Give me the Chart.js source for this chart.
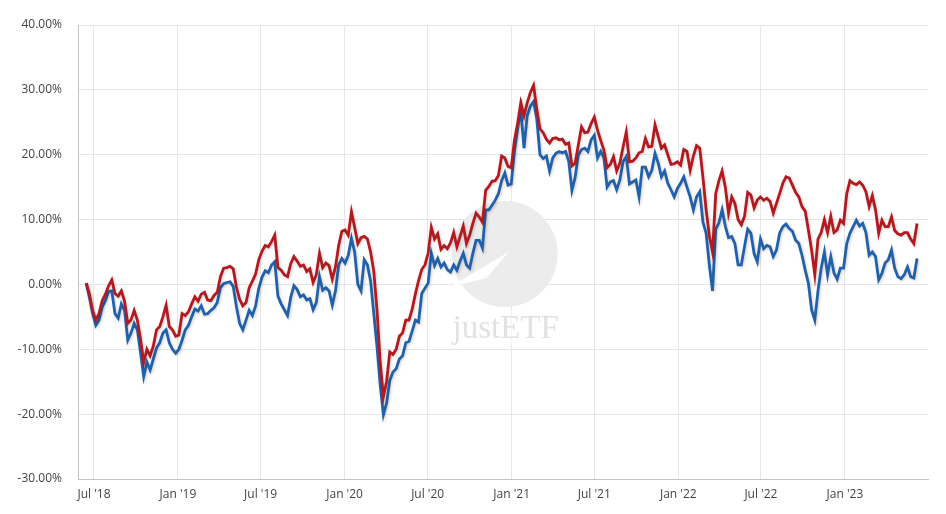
<!DOCTYPE html>
<html>
<head>
<meta charset="utf-8">
<script src="https://cdn.jsdelivr.net/npm/chart.js@4.4.0/dist/chart.umd.min.js"></script>
<style>
  html, body { margin: 0; padding: 0; background: #fff; }
  #wrap { width: 946px; height: 514px; position: relative; }
</style>
</head>
<body>
<div id="wrap"><canvas id="perfChart"></canvas></div>
<script>
// weekly closes, first sample on 2018-06-14
const startDate = "2018-06-14";
const stepDays = 7;

// red line (performance in %)
const redSeries = [
  0.2, -1.5, -4.0, -5.5, -4.5, -2.5, -1.5, -0.2, 0.7, -1.4,
  -1.8, -1.0, -2.6, -6.0, -5.5, -4.0, -5.5, -8.5, -12.0, -10.0,
  -11.0, -9.5, -7.0, -6.5, -5.0, -3.2, -6.5, -7.0, -8.0, -7.8,
  -4.5, -4.8, -4.2, -3.0, -1.9, -2.6, -1.5, -1.2, -2.4, -2.5,
  -1.7, -1.2, 1.2, 2.5, 2.6, 2.8, 2.4, -0.4, -2.3, -3.3,
  -2.8, -0.5, 0.5, 1.6, 3.8, 5.1, 6.0, 5.8, 6.6, 7.6,
  2.6, 2.2, 1.5, 1.2, 3.2, 4.3, 3.6, 2.8, 3.0, 2.0,
  2.4, 0.3, 1.5, 4.8, 2.6, 3.3, 2.9, 0.8, 2.7, 6.0,
  8.2, 8.4, 7.6, 11.2, 8.8, 6.3, 7.2, 7.4, 7.0, 5.0,
  2.0, -4.0, -12.0, -17.3, -15.0, -10.4, -10.8, -10.0, -8.0, -7.5,
  -5.5, -5.5, -3.8, -1.5, 0.6, 2.3, 3.0, 4.8, 8.8, 7.0,
  7.8, 5.4, 6.0, 5.5, 6.4, 8.0, 5.8, 7.4, 9.0, 6.3,
  7.6, 9.4, 11.0, 10.4, 9.6, 14.5, 15.1, 15.9, 16.0, 16.8,
  19.8, 19.5, 18.2, 18.0, 22.2, 24.8, 28.0, 26.0, 28.0, 29.6,
  30.7, 27.0, 24.0, 23.4, 22.4, 21.8, 22.5, 22.6, 22.3, 22.4,
  21.6, 21.8, 18.3, 18.7, 21.5, 24.3, 23.4, 23.5, 24.8, 25.8,
  23.8, 22.2, 20.7, 18.0, 18.5, 19.7, 17.5, 18.7, 21.2, 23.5,
  18.9, 19.0, 19.5, 20.3, 20.5, 22.5, 21.2, 21.3, 24.6, 22.8,
  21.0, 21.5, 20.0, 18.5, 18.6, 18.9, 18.4, 20.8, 20.5, 17.6,
  19.8, 21.4, 21.0, 16.5, 11.5, 7.5, 5.0, 14.0, 16.0, 17.5,
  15.0, 11.0, 13.5, 12.5, 10.0, 9.2, 10.5, 14.2, 13.8, 11.8,
  13.0, 13.5, 13.0, 13.3, 12.8, 11.0, 12.5, 14.0, 15.6, 16.6,
  16.4, 15.3, 14.2, 13.5, 12.0, 11.3, 8.4, 5.3, 1.5, 7.0,
  8.0, 10.0, 8.0, 10.5, 8.0, 8.4, 9.9, 9.4, 14.0, 16.0,
  15.6, 15.4, 15.8, 15.3, 14.3, 12.0, 13.7, 11.5, 7.9, 9.9,
  8.9, 8.9, 10.4, 8.3, 7.8, 7.6, 8.0, 8.0, 7.0, 6.3,
  9.4
];

// blue line (performance in %)
const blueSeries = [
  0.2, -2.0, -4.5, -6.3, -5.5, -3.5, -2.5, -1.1, -1.0, -4.5,
  -5.2, -3.0, -4.0, -8.6, -7.5, -6.0, -7.0, -10.5, -14.2, -12.0,
  -13.2, -11.5, -9.8, -9.0, -7.5, -7.0, -9.0, -10.0, -10.6, -10.0,
  -8.6, -7.0, -6.3, -5.0, -3.8, -4.1, -3.3, -4.6, -4.5, -4.0,
  -3.6, -2.8, -0.5, 0.1, 0.3, 0.4, -0.3, -3.4, -6.0, -7.0,
  -5.5, -4.0, -4.8, -3.3, -0.6, 1.1, 2.1, 1.8, 3.0, 3.5,
  -1.8, -3.0, -3.9, -4.8, -2.0, -0.2, -0.8, -1.9, -1.6, -2.4,
  -2.2, -3.9, -2.8, 1.2, -0.9, -0.5, -1.0, -3.2, -1.0, 3.0,
  4.0, 3.3, 4.5, 7.1, 5.0, 0.0, -1.0, 3.8, 3.0, 0.5,
  -4.5, -9.6, -15.5, -20.1, -18.3, -14.8, -13.5, -13.0, -11.5, -11.0,
  -9.0, -8.8, -7.2, -5.5, -5.8, -1.4, -0.6, 0.2, 4.8, 2.9,
  4.0, 2.7, 3.3, 2.3, 1.9, 3.0, 2.2, 3.6, 4.8, 3.0,
  2.5, 4.8, 6.8, 6.8, 5.6, 11.5, 11.5, 12.2, 13.0, 14.0,
  16.0, 17.2, 15.3, 15.5, 20.5, 24.0, 27.0, 21.0, 26.0, 27.5,
  28.2, 25.5, 20.0, 19.4, 19.8, 17.5, 19.5, 20.2, 20.5, 20.3,
  20.5, 19.0, 14.5, 16.5, 20.0, 20.8, 21.0, 20.5, 22.3, 23.0,
  19.5, 20.5, 19.5, 15.0, 15.8, 16.0, 14.6, 16.1, 18.9, 19.7,
  15.5, 15.8, 16.1, 13.5, 18.1, 18.1, 16.6, 17.6, 20.2, 18.7,
  16.6, 17.5, 15.6, 14.6, 13.5, 14.8, 15.6, 16.6, 15.0, 13.5,
  11.5, 13.5, 14.3, 9.6, 7.9, 3.0, -1.0, 8.5, 9.5, 11.5,
  9.0, 7.2, 7.4, 6.3, 3.0, 3.0, 5.8, 8.5, 7.9, 4.8,
  3.5, 7.0, 5.5, 6.0, 5.8, 4.3, 5.3, 7.9, 8.9, 9.3,
  8.6, 8.2, 6.8, 6.3, 4.5, 2.2, 0.2, -3.9, -5.5, -1.0,
  2.5, 5.0, 1.5, 4.3, 1.8, 0.8, 2.5, 2.5, 6.3, 7.9,
  8.9, 9.9, 9.0, 9.4, 8.0, 4.5, 5.0, 4.3, 0.7, 1.7,
  3.3, 3.8, 5.3, 2.5, 1.2, 0.9, 1.5, 2.7, 1.2, 1.0,
  4.0
];

// x axis ticks
const tickDates = ["2018-07-01", "2019-01-01", "2019-07-01", "2020-01-01", "2020-07-01",
                   "2021-01-01", "2021-07-01", "2022-01-01", "2022-07-01", "2023-01-01"];
const tickLabels = ["Jul '18", "Jan '19", "Jul '19", "Jan '20", "Jul '20",
                    "Jan '21", "Jul '21", "Jan '22", "Jul '22", "Jan '23"];
const axisStart = "2018-05-27";
const axisEnd = "2023-07-02";

// days counted from 2018-07-01
const dayOf = s => Math.round((Date.parse(s) - Date.parse("2018-07-01")) / 86400000);
const tickDays = tickDates.map(dayOf);
const toPoints = arr => arr.map((v, i) => ({ x: dayOf(startDate) + i * stepDays, y: v }));

// watermark in the middle + soft line shadow
const watermark = {
  id: "watermark",
  beforeDatasetsDraw(chart) {
    const { ctx, scales } = chart;
    const cx = scales.x.getPixelForValue(dayOf("2021-01-01")) - 7;
    const cy = scales.y.getPixelForValue(4.7);
    ctx.save();
    ctx.fillStyle = "#ececec";
    ctx.beginPath();
    ctx.arc(cx, cy, 53, 0, Math.PI * 2);
    ctx.fill();
    ctx.fillStyle = "#ffffff";
    ctx.beginPath();
    ctx.moveTo(cx - 55, cy + 33);
    ctx.lineTo(cx + 4, cy - 2);
    ctx.lineTo(cx - 18, cy + 24);
    ctx.closePath();
    ctx.fill();
    ctx.fillStyle = "rgba(255,255,255,0.55)";
    ctx.fillRect(cx - 56, cy + 56, 110, 36);
    ctx.fillStyle = "#e2e2e2";
    ctx.font = "33px 'Liberation Serif', 'DejaVu Serif', serif";
    ctx.textAlign = "center";
    ctx.textBaseline = "alphabetic";
    ctx.fillText("justETF", cx + 1, cy + 84);
    ctx.restore();
  },
  beforeDatasetDraw(chart) {
    const ctx = chart.ctx;
    ctx.save();
    ctx.shadowColor = "rgba(0,0,0,0.2)";
    ctx.shadowBlur = 3;
    ctx.shadowOffsetX = 1;
    ctx.shadowOffsetY = 1;
  },
  afterDatasetDraw(chart) {
    chart.ctx.restore();
  }
};

new Chart(document.getElementById("perfChart"), {
  type: "line",
  data: {
    datasets: [
      {
        label: "red",
        data: toPoints(redSeries),
        borderColor: "#b3191e",
        borderWidth: 2.8,
        pointRadius: 0,
        tension: 0
      },
      {
        label: "blue",
        data: toPoints(blueSeries),
        borderColor: "#2160aa",
        borderWidth: 2.8,
        pointRadius: 0,
        tension: 0
      }
    ]
  },
  options: {
    responsive: true,
    maintainAspectRatio: false,
    animation: false,
    layout: { padding: { top: 25, right: 18, left: 0, bottom: 0 } },
    plugins: {
      legend: { display: false },
      tooltip: { enabled: false }
    },
    scales: {
      x: {
        type: "linear",
        min: dayOf(axisStart),
        max: dayOf(axisEnd),
        afterBuildTicks: scale => {
          scale.ticks = tickDays.map(v => ({ value: v }));
        },
        afterFit: scale => { scale.height = 35; },
        grid: { color: "#e6e6e6", drawTicks: false },
        border: { color: "#c4c4c4", width: 1 },
        ticks: {
          autoSkip: false,
          maxRotation: 0,
          padding: 8,
          color: "#444",
          font: { family: "'Open Sans'", size: 12 },
          callback: v => tickLabels[tickDays.indexOf(v)] ?? ""
        }
      },
      y: {
        min: -30,
        max: 40,
        afterFit: scale => { scale.width = 78; },
        grid: { color: "#e6e6e6", drawTicks: false },
        border: { color: "#c4c4c4", width: 1 },
        ticks: {
          stepSize: 10,
          padding: 16,
          color: "#444",
          font: { family: "'Open Sans'", size: 12 },
          callback: v => v.toFixed(2) + "%"
        }
      }
    }
  },
  plugins: [watermark]
});
</script>
</body>
</html>
